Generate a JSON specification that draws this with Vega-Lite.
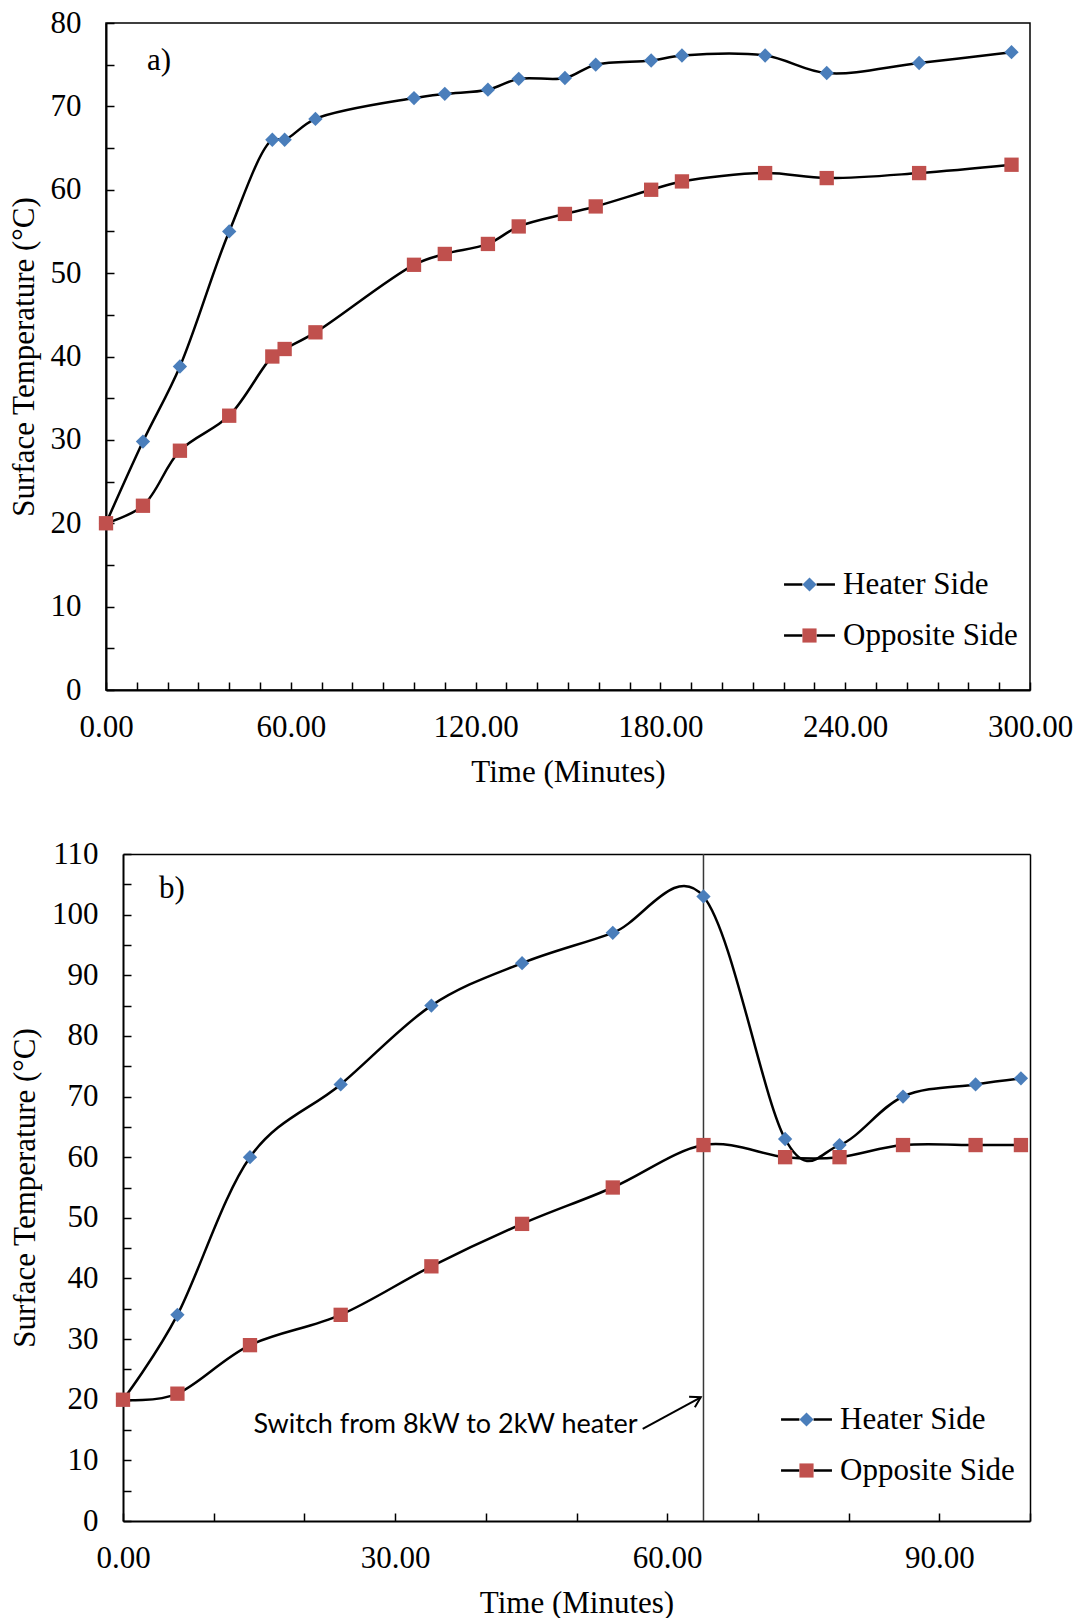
{
  "$schema": "https://vega.github.io/schema/vega-lite/v6.json",
  "background": "white",
  "padding": {"left": 7, "top": 6, "right": 0, "bottom": 0},
  "datasets": {
    "runA": [
      {"time": 0, "side": "Heater Side", "temperature": 20},
      {"time": 12, "side": "Heater Side", "temperature": 29.8},
      {"time": 24, "side": "Heater Side", "temperature": 38.8},
      {"time": 40, "side": "Heater Side", "temperature": 55},
      {"time": 54, "side": "Heater Side", "temperature": 66},
      {"time": 58, "side": "Heater Side", "temperature": 66},
      {"time": 68, "side": "Heater Side", "temperature": 68.5},
      {"time": 100, "side": "Heater Side", "temperature": 71},
      {"time": 110, "side": "Heater Side", "temperature": 71.5},
      {"time": 124, "side": "Heater Side", "temperature": 72},
      {"time": 134, "side": "Heater Side", "temperature": 73.3},
      {"time": 149, "side": "Heater Side", "temperature": 73.4},
      {"time": 159, "side": "Heater Side", "temperature": 75},
      {"time": 177, "side": "Heater Side", "temperature": 75.5},
      {"time": 187, "side": "Heater Side", "temperature": 76.1},
      {"time": 214, "side": "Heater Side", "temperature": 76.1},
      {"time": 234, "side": "Heater Side", "temperature": 74},
      {"time": 264, "side": "Heater Side", "temperature": 75.2},
      {"time": 294, "side": "Heater Side", "temperature": 76.5},
      {"time": 0, "side": "Opposite Side", "temperature": 20},
      {"time": 12, "side": "Opposite Side", "temperature": 22.1},
      {"time": 24, "side": "Opposite Side", "temperature": 28.7},
      {"time": 40, "side": "Opposite Side", "temperature": 32.9},
      {"time": 54, "side": "Opposite Side", "temperature": 40},
      {"time": 58, "side": "Opposite Side", "temperature": 40.9},
      {"time": 68, "side": "Opposite Side", "temperature": 42.9},
      {"time": 100, "side": "Opposite Side", "temperature": 51},
      {"time": 110, "side": "Opposite Side", "temperature": 52.3},
      {"time": 124, "side": "Opposite Side", "temperature": 53.5},
      {"time": 134, "side": "Opposite Side", "temperature": 55.6},
      {"time": 149, "side": "Opposite Side", "temperature": 57.1},
      {"time": 159, "side": "Opposite Side", "temperature": 58},
      {"time": 177, "side": "Opposite Side", "temperature": 60},
      {"time": 187, "side": "Opposite Side", "temperature": 61},
      {"time": 214, "side": "Opposite Side", "temperature": 62},
      {"time": 234, "side": "Opposite Side", "temperature": 61.4},
      {"time": 264, "side": "Opposite Side", "temperature": 62},
      {"time": 294, "side": "Opposite Side", "temperature": 63}
    ],
    "runB": [
      {"time": 0, "side": "Heater Side", "temperature": 20},
      {"time": 6, "side": "Heater Side", "temperature": 34},
      {"time": 14, "side": "Heater Side", "temperature": 60},
      {"time": 24, "side": "Heater Side", "temperature": 72},
      {"time": 34, "side": "Heater Side", "temperature": 85},
      {"time": 44, "side": "Heater Side", "temperature": 92},
      {"time": 54, "side": "Heater Side", "temperature": 97},
      {"time": 64, "side": "Heater Side", "temperature": 103},
      {"time": 73, "side": "Heater Side", "temperature": 63},
      {"time": 79, "side": "Heater Side", "temperature": 62},
      {"time": 86, "side": "Heater Side", "temperature": 70},
      {"time": 94, "side": "Heater Side", "temperature": 72},
      {"time": 99, "side": "Heater Side", "temperature": 73},
      {"time": 0, "side": "Opposite Side", "temperature": 20},
      {"time": 6, "side": "Opposite Side", "temperature": 21},
      {"time": 14, "side": "Opposite Side", "temperature": 29},
      {"time": 24, "side": "Opposite Side", "temperature": 34},
      {"time": 34, "side": "Opposite Side", "temperature": 42},
      {"time": 44, "side": "Opposite Side", "temperature": 49},
      {"time": 54, "side": "Opposite Side", "temperature": 55},
      {"time": 64, "side": "Opposite Side", "temperature": 62},
      {"time": 73, "side": "Opposite Side", "temperature": 60},
      {"time": 79, "side": "Opposite Side", "temperature": 60},
      {"time": 86, "side": "Opposite Side", "temperature": 62},
      {"time": 94, "side": "Opposite Side", "temperature": 62},
      {"time": 99, "side": "Opposite Side", "temperature": 62}
    ]
  },
  "spacing": 50,
  "resolve": {
    "scale": {"fill": "independent", "shape": "independent", "stroke": "independent"},
    "legend": {"fill": "independent", "shape": "independent", "stroke": "independent"}
  },
  "vconcat": [
    {
      "width": 924,
      "height": 667,
      "data": {"name": "runA"},
      "encoding": {
        "x": {
          "field": "time", "type": "quantitative",
          "scale": {"domain": [0, 300], "nice": false, "zero": true},
          "axis": {
            "title": "Time (Minutes)",
            "values": [0, 10, 20, 30, 40, 50, 60, 70, 80, 90, 100, 110, 120, 130, 140, 150, 160, 170, 180, 190, 200, 210, 220, 230, 240, 250, 260, 270, 280, 290, 300],
            "labelExpr": "datum.value % 60 === 0 ? format(datum.value, '.2f') : ''"
          }
        },
        "y": {
          "field": "temperature", "type": "quantitative",
          "scale": {"domain": [0, 80], "nice": false},
          "axis": {
            "title": "Surface Temperature (°C)",
            "values": [0, 5, 10, 15, 20, 25, 30, 35, 40, 45, 50, 55, 60, 65, 70, 75, 80],
            "labelExpr": "datum.value % 10 === 0 ? datum.label : ''"
          }
        }
      },
      "layer": [
        {
          "mark": {"type": "line", "interpolate": "catmull-rom", "strokeWidth": 2.5},
          "encoding": {
            "stroke": {
              "field": "side", "type": "nominal",
              "scale": {"domain": ["Heater Side", "Opposite Side"], "range": ["black", "black"]},
              "legend": {
                "orient": "none", "legendX": 688, "legendY": 546, "title": null,
                "symbolType": "M-3.6,0H-1M1,0H3.6", "symbolSize": 200, "symbolStrokeWidth": 2.5,
                "labelOpacity": 0, "labelFont": "Liberation Serif", "labelFontSize": 31,
                "labelOffset": 18, "rowPadding": 19, "labelLimit": 0
              }
            }
          }
        },
        {
          "mark": {"type": "point", "filled": true, "opacity": 1, "size": 205},
          "encoding": {
            "fill": {
              "field": "side", "type": "nominal",
              "scale": {"range": ["#4A7EBB", "#C0504D"]},
              "legend": {
                "orient": "none", "legendX": 688, "legendY": 546, "title": null,
                "symbolSize": 200, "symbolStrokeWidth": 0, "symbolOpacity": 1,
                "labelFont": "Liberation Serif", "labelFontSize": 31, "labelColor": "black",
                "labelOffset": 18, "rowPadding": 19, "labelLimit": 0
              }
            },
            "shape": {
              "field": "side", "type": "nominal",
              "scale": {"range": ["diamond", "square"]},
              "legend": {
                "orient": "none", "legendX": 688, "legendY": 546, "title": null,
                "symbolSize": 200, "symbolStrokeWidth": 0, "symbolOpacity": 1,
                "labelFont": "Liberation Serif", "labelFontSize": 31, "labelColor": "black",
                "labelOffset": 18, "rowPadding": 19, "labelLimit": 0
              }
            }
          }
        },
        {
          "transform": [{"filter": "datum.time === 0 && datum.side === 'Heater Side'"}],
          "mark": {"type": "text", "text": "a)", "font": "Liberation Serif", "fontSize": 31, "align": "center", "baseline": "middle", "color": "black"},
          "encoding": {
            "x": {"datum": 17.2, "type": "quantitative"},
            "y": {"datum": 75.4, "type": "quantitative"}
          }
        }
      ]
    },
    {
      "width": 924,
      "height": 667,
      "view": {"stroke": null},
      "data": {"name": "runB"},
      "layer": [
        {
          "transform": [{"filter": "datum.time === 64 && datum.side === 'Heater Side'"}],
          "mark": {"type": "rule", "color": "#383838", "strokeWidth": 1.5},
          "encoding": {
            "x": {"field": "time", "type": "quantitative", "axis": null}
          }
        },
        {
          "mark": {"type": "line", "interpolate": "cardinal", "strokeWidth": 2.5},
          "encoding": {
            "x": {
              "field": "time", "type": "quantitative",
              "scale": {"domain": [0, 100], "nice": false, "zero": true, "range": [17, 924]},
              "axis": {
                "orient": "bottom",
                "title": "Time (Minutes)",
                "values": [0, 10, 20, 30, 40, 50, 60, 70, 80, 90, 100],
                "labelExpr": "datum.value % 30 === 0 ? format(datum.value, '.2f') : ''"
              }
            },
            "y": {
              "field": "temperature", "type": "quantitative",
              "scale": {"domain": [0, 110], "nice": false},
              "axis": {
                "orient": "left",
                "offset": -17,
                "title": "Surface Temperature (°C)",
                "values": [0, 5, 10, 15, 20, 25, 30, 35, 40, 45, 50, 55, 60, 65, 70, 75, 80, 85, 90, 95, 100, 105, 110],
                "labelExpr": "datum.value % 10 === 0 ? datum.label : ''"
              }
            },
            "stroke": {
              "field": "side", "type": "nominal",
              "scale": {"domain": ["Heater Side", "Opposite Side"], "range": ["black", "black"]},
              "legend": {
                "orient": "none", "legendX": 685, "legendY": 550, "title": null,
                "symbolType": "M-3.6,0H-1M1,0H3.6", "symbolSize": 200, "symbolStrokeWidth": 2.5,
                "labelOpacity": 0, "labelFont": "Liberation Serif", "labelFontSize": 31,
                "labelOffset": 18, "rowPadding": 19, "labelLimit": 0
              }
            }
          }
        },
        {
          "mark": {"type": "point", "filled": true, "opacity": 1, "size": 205},
          "encoding": {
            "x": {
              "field": "time", "type": "quantitative",
              "axis": {"orient": "top", "title": null, "labels": false, "ticks": false, "domainWidth": 1.5}
            },
            "y": {
              "field": "temperature", "type": "quantitative",
              "axis": {"orient": "right", "title": null, "labels": false, "ticks": false, "domainWidth": 1.5}
            },
            "fill": {
              "field": "side", "type": "nominal",
              "scale": {"range": ["#4A7EBB", "#C0504D"]},
              "legend": {
                "orient": "none", "legendX": 685, "legendY": 550, "title": null,
                "symbolSize": 200, "symbolStrokeWidth": 0, "symbolOpacity": 1,
                "labelFont": "Liberation Serif", "labelFontSize": 31, "labelColor": "black",
                "labelOffset": 18, "rowPadding": 19, "labelLimit": 0
              }
            },
            "shape": {
              "field": "side", "type": "nominal",
              "scale": {"range": ["diamond", "square"]},
              "legend": {
                "orient": "none", "legendX": 685, "legendY": 550, "title": null,
                "symbolSize": 200, "symbolStrokeWidth": 0, "symbolOpacity": 1,
                "labelFont": "Liberation Serif", "labelFontSize": 31, "labelColor": "black",
                "labelOffset": 18, "rowPadding": 19, "labelLimit": 0
              }
            }
          }
        },
        {
          "transform": [{"filter": "datum.time === 0 && datum.side === 'Heater Side'"}],
          "mark": {"type": "text", "text": "b)", "font": "Liberation Serif", "fontSize": 31, "align": "center", "baseline": "middle", "color": "black"},
          "encoding": {
            "x": {"datum": 5.4, "type": "quantitative", "axis": null},
            "y": {"datum": 104.3, "type": "quantitative", "axis": null}
          }
        },
        {
          "transform": [{"filter": "datum.time === 64 && datum.side === 'Heater Side'"}],
          "mark": {"type": "text", "text": "Switch from 8kW to 2kW heater", "font": "Lato", "fontSize": 27, "align": "center", "baseline": "middle", "color": "black"},
          "encoding": {
            "x": {"datum": 35.56, "type": "quantitative", "axis": null},
            "y": {"datum": 15.8, "type": "quantitative", "axis": null}
          }
        },
        {
          "transform": [{"filter": "datum.time === 64 && datum.side === 'Heater Side'"}],
          "mark": {"type": "rule", "color": "black", "strokeWidth": 2},
          "encoding": {
            "x": {"datum": 57.3, "type": "quantitative", "axis": null},
            "y": {"datum": 15.2, "type": "quantitative", "axis": null},
            "x2": {"datum": 63.7},
            "y2": {"datum": 20.4}
          }
        },
        {
          "transform": [{"filter": "datum.time === 64 && datum.side === 'Heater Side'"}],
          "mark": {"type": "point", "shape": "M-1,-0.6L0,0L-1,0.6", "size": 400, "angle": -28.6, "filled": false, "stroke": "black", "strokeWidth": 2, "opacity": 1},
          "encoding": {
            "x": {"datum": 63.7, "type": "quantitative", "axis": null},
            "y": {"datum": 20.4, "type": "quantitative", "axis": null}
          }
        }
      ]
    }
  ],
  "config": {
    "font": "Liberation Serif",
    "view": {"stroke": "black", "strokeWidth": 1.5},
    "axis": {
      "grid": false,
      "domainColor": "black",
      "domainWidth": 2,
      "tickColor": "black",
      "tickWidth": 1.5,
      "tickSize": -8,
      "labelFont": "Liberation Serif",
      "labelFontSize": 31,
      "labelColor": "black",
      "labelPadding": 33,
      "labelOverlap": false,
      "labelFlush": false,
      "titleFont": "Liberation Serif",
      "titleFontSize": 31,
      "titleFontWeight": "normal",
      "titleColor": "black",
      "titlePadding": 10
    },
    "axisX": {"labelPadding": 30, "titlePadding": 15}
  }
}
